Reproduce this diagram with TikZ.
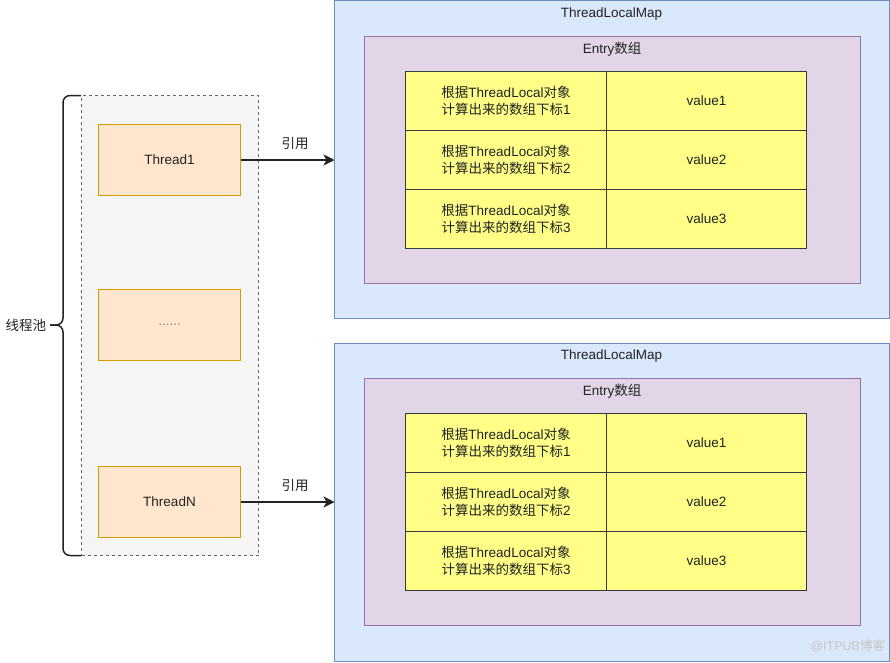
\documentclass[tikz,border=0pt]{standalone}
\usepackage{fontspec}
\setmainfont{Liberation Sans}
\newfontfamily\cjk{Noto Sans CJK SC}
\usetikzlibrary{arrows.meta}
\definecolor{mapfill}{HTML}{DAE8FC}
\definecolor{mapline}{HTML}{6C8EBF}
\definecolor{entfill}{HTML}{E1D5E7}
\definecolor{entline}{HTML}{9673A6}
\definecolor{cellfill}{HTML}{FFFF88}
\definecolor{cellline}{HTML}{36393D}
\definecolor{thfill}{HTML}{FFE6CC}
\definecolor{thline}{HTML}{D79B00}
\definecolor{poolfill}{HTML}{F5F5F5}
\definecolor{poolline}{HTML}{666666}
\definecolor{txt}{HTML}{222222}
\begin{document}
\begin{tikzpicture}[x=1pt,y=-1pt,
  every node/.style={inner sep=0pt,outer sep=0pt,text=txt,font=\fontsize{13.5}{17}\selectfont},
  box/.style={draw,line width=1pt,minimum width=#1},
  mapbox/.style={box=555pt,fill=mapfill,draw=mapline,minimum height=318pt},
  entbox/.style={box=496pt,fill=entfill,draw=entline,minimum height=247pt},
  cellbox/.style={box=#1,fill=cellfill,draw=cellline,minimum height=59pt,align=center},
  thbox/.style={box=142pt,fill=thfill,draw=thline,minimum height=71pt},
  poolbox/.style={draw=poolline,fill=poolfill,line width=1pt,dash pattern=on 3pt off 3pt,minimum width=177pt,minimum height=460pt},
  conn/.style={draw=txt,line width=1.5pt,-{Stealth[length=11pt,width=11pt,inset=3pt]}},
  title/.style={anchor=center}
]
\useasboundingbox (0,0) rectangle (890,662);
\fill[white] (0,0) rectangle (890,662);

% pool
\node[poolbox] (pool) at (170,325.5) {};
\node[thbox] (thread1) at (169.5,160) {Thread1};
\node[thbox] (dots) at (169.5,325) {\textcolor{gray}{......}};
\node[thbox] (threadN) at (169.5,502) {ThreadN};

% brace
\coordinate (btop) at (81,95.5);
\coordinate (bbot) at (81,555.5);
\coordinate (btip) at (50,325);
\draw[draw=txt,line width=1.5pt,rounded corners=7pt] (btop) -- (63,95.5) -- (63,325) -- (btip);
\draw[draw=txt,line width=1.5pt,rounded corners=7pt] (btip) -- (63,325) -- (63,555.5) -- (bbot);
\node[anchor=east] (poollabel) at (46,325) {\cjk 线程池};

% map 1
\node[mapbox] (map1) at (612,159.5) {};
\node[title] (map1t) at (611.5,14) {ThreadLocalMap};
\node[entbox] (ent1) at (612.5,160) {};
\node[title] (ent1t) at (612,49) {Entry{\cjk 数组}};
\node[cellbox=201pt] (a11) at (506,101) {{\cjk 根据}ThreadLocal{\cjk 对象}\\{\cjk 计算出来的数组下标}1};
\node[cellbox=200pt] (a12) at (706.5,101) {value1};
\node[cellbox=201pt] (a21) at (506,160) {{\cjk 根据}ThreadLocal{\cjk 对象}\\{\cjk 计算出来的数组下标}2};
\node[cellbox=200pt] (a22) at (706.5,160) {value2};
\node[cellbox=201pt] (a31) at (506,219) {{\cjk 根据}ThreadLocal{\cjk 对象}\\{\cjk 计算出来的数组下标}3};
\node[cellbox=200pt] (a32) at (706.5,219) {value3};

% map 2
\node[mapbox] (map2) at (612,502.5) {};
\node[title] (map2t) at (611.5,356) {ThreadLocalMap};
\node[entbox] (ent2) at (612.5,502) {};
\node[title] (ent2t) at (612,391) {Entry{\cjk 数组}};
\node[cellbox=201pt] (b11) at (506,443) {{\cjk 根据}ThreadLocal{\cjk 对象}\\{\cjk 计算出来的数组下标}1};
\node[cellbox=200pt] (b12) at (706.5,443) {value1};
\node[cellbox=201pt] (b21) at (506,502) {{\cjk 根据}ThreadLocal{\cjk 对象}\\{\cjk 计算出来的数组下标}2};
\node[cellbox=200pt] (b22) at (706.5,502) {value2};
\node[cellbox=201pt] (b31) at (506,561) {{\cjk 根据}ThreadLocal{\cjk 对象}\\{\cjk 计算出来的数组下标}3};
\node[cellbox=200pt] (b32) at (706.5,561) {value3};

% connectors
\draw[conn] (thread1.east) -- (thread1.east -| map1.west);
\node (ref1) at (295,143) {\cjk 引用};
\draw[conn] (threadN.east) -- (threadN.east -| map2.west);
\node (ref2) at (295,485) {\cjk 引用};

% watermark
\node[anchor=east,text=gray!45,font=\fontsize{12.5}{14}\selectfont] (wm) at (885,646) {@ITPUB{\cjk 博客}};
\end{tikzpicture}
\end{document}
